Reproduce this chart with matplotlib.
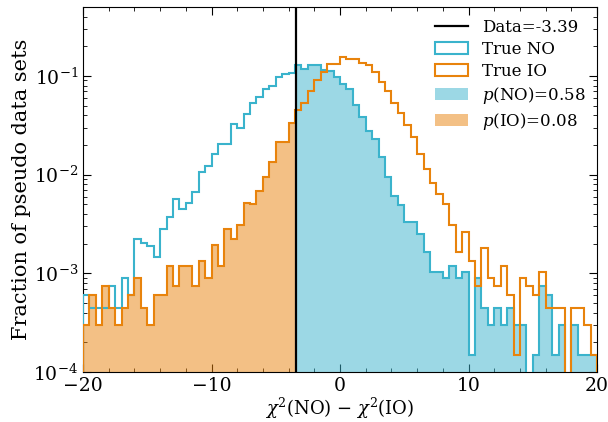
import numpy as np
import matplotlib
matplotlib.use('Agg')
import matplotlib.pyplot as plt
from matplotlib.ticker import MultipleLocator

plt.rcParams['font.family'] = 'DejaVu Serif'
plt.rcParams['mathtext.fontset'] = 'dejavuserif'

# histogram values (density, bin width 0.5 from -20 to 20)
edges = np.linspace(-20, 20, 81)
data_value = -3.39

true_no = [
    5.96e-4, 4.47e-4, 4.47e-4, 4.47e-4, 7.45e-4, 4.47e-4, 8.94e-4, 5.96e-4,
    2.21e-3, 2.04e-3, 1.89e-3, 1.47e-3, 2.79e-3, 3.69e-3, 5.70e-3, 4.52e-3,
    5.12e-3, 6.70e-3, 1.07e-2, 1.23e-2, 1.62e-2, 2.04e-2, 2.04e-2, 3.26e-2,
    3.00e-2, 4.11e-2, 5.27e-2, 6.07e-2, 7.36e-2, 7.90e-2, 9.68e-2, 1.045e-1,
    1.07e-1, 1.30e-1, 1.18e-1, 1.30e-1, 1.30e-1, 1.15e-1, 1.12e-1, 9.68e-2,
    8.28e-2, 7.36e-2, 5.07e-2, 3.80e-2, 2.79e-2, 2.28e-2, 1.50e-2, 9.38e-3,
    6.07e-3, 4.92e-3, 3.33e-3, 3.33e-3, 2.50e-3, 1.64e-3, 1.04e-3, 1.04e-3,
    8.94e-4, 1.19e-3, 8.94e-4, 1.04e-3, 1.49e-4, 8.94e-4, 4.47e-4, 2.98e-4,
    4.47e-4, 2.98e-4, 4.47e-4, 2.98e-4, 2.98e-4, 0.0, 1.49e-4, 7.45e-4,
    5.96e-4, 1.49e-4, 2.98e-4, 0.0, 2.98e-4, 1.49e-4, 1.49e-4, 1.49e-4,
]

true_io = [
    2.98e-4, 5.96e-4, 2.98e-4, 7.45e-4, 4.47e-4, 2.98e-4, 4.47e-4, 5.96e-4,
    8.94e-4, 4.47e-4, 2.98e-4, 5.96e-4, 5.96e-4, 1.19e-3, 7.45e-4, 1.19e-3,
    1.19e-3, 7.45e-4, 1.34e-3, 8.94e-4, 1.94e-3, 1.19e-3, 2.83e-3, 2.24e-3,
    3.10e-3, 5.20e-3, 5.04e-3, 6.90e-3, 9.53e-3, 1.33e-2, 2.15e-2, 2.15e-2,
    3.36e-2, 4.52e-2, 5.35e-2, 7.08e-2, 9.08e-2, 1.087e-1, 1.32e-1, 1.32e-1,
    1.57e-1, 1.47e-1, 1.49e-1, 1.34e-1, 1.29e-1, 1.10e-1, 8.73e-2, 7.08e-2,
    5.35e-2, 4.24e-2, 3.18e-2, 2.42e-2, 1.62e-2, 1.13e-2, 8.17e-3, 6.35e-3,
    5.04e-3, 3.08e-3, 1.64e-3, 2.64e-3, 1.34e-3, 7.45e-4, 1.79e-3, 8.94e-4,
    7.45e-4, 1.19e-3, 5.96e-4, 1.49e-4, 8.94e-4, 7.45e-4, 5.96e-4, 1.04e-3,
    4.47e-4, 4.47e-4, 4.47e-4, 0.0, 4.47e-4, 4.47e-4, 2.98e-4, 1.49e-4,
]

labels = ['Data=-3.39', 'True NO', 'True IO', '$p$(NO)=0.58', '$p$(IO)=0.08']

c_no = '#3ab3cc'
c_io = '#e8830c'

true_no = np.array(true_no)
true_io = np.array(true_io)
centers = 0.5 * (edges[1:] + edges[:-1])

# split bins at the data value for the shaded p-value regions
k = np.searchsorted(edges, data_value)  # first edge above data
io_edges = np.append(edges[:k], data_value)
io_w = true_io[:k]
no_edges = np.insert(edges[k:], 0, data_value)
no_w = true_no[k - 1:]

fig = plt.figure(figsize=(6.08, 4.22), dpi=100)
ax = fig.add_axes([0.1365, 0.1185, 0.8455, 0.865])

ax.axvline(data_value, color='k', lw=1.6, label=labels[0], zorder=5)
ax.hist(centers, bins=edges, weights=true_no, histtype='step', color=c_no,
        lw=1.5, label=labels[1], log=True, zorder=4)
ax.hist(centers, bins=edges, weights=true_io, histtype='step', color=c_io,
        lw=1.5, label=labels[2], log=True, zorder=4)
ax.hist(0.5 * (no_edges[1:] + no_edges[:-1]), bins=no_edges, weights=no_w,
        histtype='stepfilled', color=c_no, alpha=0.5, lw=0, label=labels[3],
        log=True, zorder=2)
ax.hist(0.5 * (io_edges[1:] + io_edges[:-1]), bins=io_edges, weights=io_w,
        histtype='stepfilled', color=c_io, alpha=0.5, lw=0, label=labels[4],
        log=True, zorder=2)

ax.set_xlim(-20, 20)
ax.set_ylim(1e-4, 0.5)
ax.xaxis.set_major_locator(MultipleLocator(10))
ax.xaxis.set_minor_locator(MultipleLocator(2))
ax.tick_params(which='both', direction='in', top=True, right=True, labelsize=13.5)
ax.tick_params(which='major', length=6)
ax.tick_params(which='minor', length=3)

ax.set_xlabel(r'$\chi^2$(NO) $-$ $\chi^2$(IO)', fontsize=13, labelpad=1)
ax.set_ylabel('Fraction of pseudo data sets', fontsize=15, labelpad=2)

ax.legend(loc='upper right', frameon=False, fontsize=12, handlelength=2.0,
          borderaxespad=0.3, labelspacing=0.3)

fig.savefig('out.png', dpi=100)
